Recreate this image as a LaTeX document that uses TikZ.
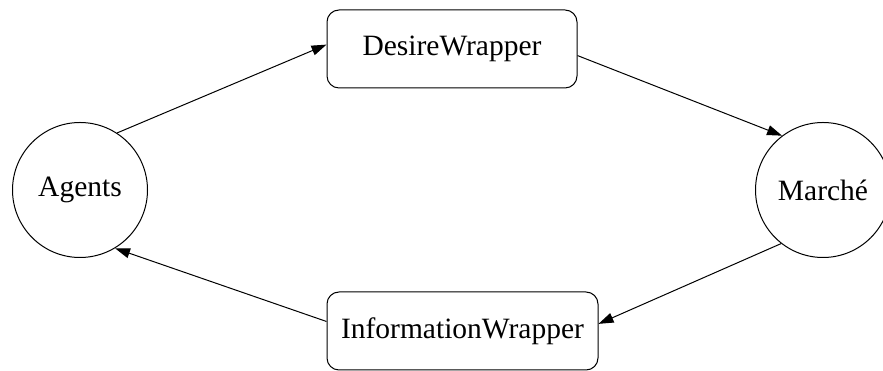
\documentclass[tikz,border=0pt]{standalone}
\usepackage{fontspec}
\setmainfont{Liberation Serif}
\usetikzlibrary{arrows.meta}

\begin{document}
\begin{tikzpicture}[x=1pt, y=1pt, line width=1pt,
    state/.style={draw, circle, minimum size=135pt, inner sep=0pt},
    wrapper/.style={draw, rounded corners=12pt, minimum height=78pt, inner sep=0pt},
    flow/.style={-{Triangle[length=15pt, width=10pt]}},
    font=\fontsize{29.5}{35}\selectfont]
    \useasboundingbox (0,0) rectangle (883,371);
    \node[state] (agents) at (80,181) {Agents};
    \node[state] (marche) at (823,181) {Marché};
    \node[wrapper, minimum width=250pt] (desire) at (452,322) {DesireWrapper};
    \node[wrapper, minimum width=271pt] (info) at (462.5,40) {InformationWrapper};
%    edges go round the cycle
    \draw[flow] (agents.57.5) -- (desire.178);
    \draw[flow] (desire.-3.7) -- (marche.127);
    \draw[flow] (marche.232) -- (info.3.8);
    \draw[flow] (info.176.2) -- (agents.-59.3);
\end{tikzpicture}
\end{document}
